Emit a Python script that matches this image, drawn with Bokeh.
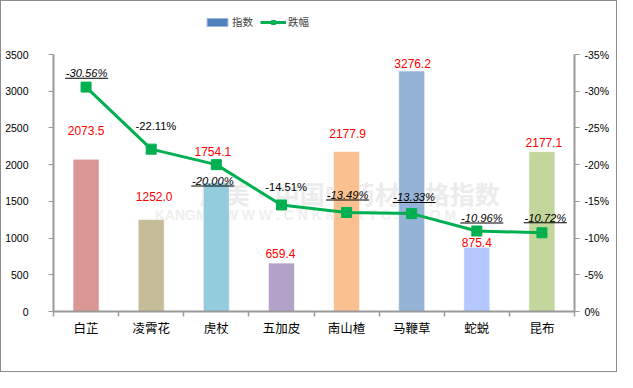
from bokeh.plotting import figure
from bokeh.models import (ColumnDataSource, Range1d, LinearAxis, FixedTicker,
                          CustomJSTickFormatter, Legend, LegendItem)
from bokeh.core.properties import value
from bokeh.embed import file_html
from bokeh.resources import INLINE

# ---------------- data ----------------
categories = ["白芷", "凌霄花", "虎杖", "五加皮", "南山楂", "马鞭草", "蛇蜕", "昆布"]
index_values = [2073.5, 1252.0, 1754.1, 659.4, 2177.9, 3276.2, 875.4, 2177.1]
change_pct = [-30.56, -22.11, -20.00, -14.51, -13.49, -13.33, -10.96, -10.72]
left_ticks = [0, 500, 1000, 1500, 2000, 2500, 3000, 3500]
right_ticks = [0, 5, 10, 15, 20, 25, 30, 35]

# ---------------- styling ----------------
bar_colors = ["#D99694", "#C4BD97", "#93CDDD", "#B3A2C7", "#FAC090", "#95B3D7", "#B4C7FF", "#C3D69B"]
bar_label_lift = [390, 313, 430, 125, 250, 106, 66, 120]
bar_label_dx = [0, 3, -3.5, -1, 1, 1, 0, 2]
pct_label_lift = [1.9, 3.2, -2.2, 2.4, 2.4, 2.2, 1.8, 2.05]
pct_label_dx = [0.6, 4.7, -3.5, 4.6, 1, 2.5, 5, 3.4]
pct_underlined = [True, False, True, False, True, True, True, True]
GREEN = "#00B050"
AXIS = "#9a9a9a"
CJK = "Noto Sans CJK SC"
LAT = "Liberation Sans"

W, H = 617, 372
B_LEFT, B_RIGHT, B_TOP, B_BOTTOM = 52, 44, 5, 62
AXIS_TOP = 53          # pixel row of the top tick (3500 / -35%)
plot_h = H - B_TOP - B_BOTTOM
axis_h = H - AXIS_TOP - B_BOTTOM
LMAX, RMAX = left_ticks[-1], right_ticks[-1]
ymax_l = LMAX * plot_h / axis_h
ymax_r = RMAX * plot_h / axis_h

n = len(categories)
xc = [i + 0.5 for i in range(n)]
mag = [-v for v in change_pct]
pct_text = ["%.2f%%" % v for v in change_pct]

p = figure(width=W, height=H, output_backend="svg", toolbar_location=None,
           x_range=Range1d(0, n), y_range=Range1d(0, ymax_l),
           min_border_left=B_LEFT, min_border_right=B_RIGHT,
           min_border_top=B_TOP, min_border_bottom=B_BOTTOM)
p.extra_y_ranges = {"pct": Range1d(0, ymax_r)}
p.outline_line_color = None
p.xgrid.visible = False
p.ygrid.visible = False
p.background_fill_color = "white"
p.border_fill_color = "white"
p.styles = {"border": "1px solid #8c8c8c", "box-sizing": "border-box"}

# watermark
p.text(x=[4.55], y=[1620], text=["康美·中国中药材价格指数"], text_align="center",
       text_baseline="middle", text_font=value(CJK), text_font_size="25px",
       text_font_style="bold", text_color="#ececec")
p.text(x=[3.9], y=[1310], text=["KANGMEI  W W W . C N K M P R T C S . C O M"], text_align="center",
       text_baseline="middle", text_font=value(LAT), text_font_size="14px",
       text_font_style="bold", text_color="#efefef")

# bars
bsrc = ColumnDataSource(dict(x=xc, top=index_values, color=bar_colors,
                             ly=[v + d for v, d in zip(index_values, bar_label_lift)],
                             lbl=["%.1f" % v for v in index_values], dx=bar_label_dx))
p.vbar(x="x", top="top", width=0.4, fill_color="color", line_color="white",
       line_alpha=0.6, line_width=1, source=bsrc)
p.text(x="x", y="ly", text="lbl", x_offset="dx", source=bsrc, text_align="center",
       text_baseline="middle", text_font=value(LAT), text_font_size="12px", text_color="#FF0000")

# line
lsrc = ColumnDataSource(dict(x=xc, y=mag))
line_r = p.line(x="x", y="y", source=lsrc, line_color=GREEN, line_width=3, y_range_name="pct")
mark_r = p.scatter(x="x", y="y", source=lsrc, marker="square", size=10, fill_color=GREEN,
                   line_color=GREEN, y_range_name="pct")

# percent labels
ly = [m + d for m, d in zip(mag, pct_label_lift)]
psrc = ColumnDataSource(dict(x=xc, y=ly, t=pct_text, dx=pct_label_dx,
                             style=["italic" if u else "normal" for u in pct_underlined]))
p.text(x="x", y="y", text="t", x_offset="dx", text_font_style="style", source=psrc,
       y_range_name="pct", text_align="center", text_baseline="middle",
       text_font=value(LAT), text_font_size="11.2px", text_color="black")
usrc = ColumnDataSource(dict(
    x=[x + d / 65.0 for x, d, u in zip(xc, pct_label_dx, pct_underlined) if u],
    y=[v - 0.7 for v, u in zip(ly, pct_underlined) if u]))
p.rect(x="x", y="y", width=43, height=1, width_units="screen", height_units="screen",
       source=usrc, fill_color="black", line_color=None, y_range_name="pct")

# axes
p.xaxis.ticker = FixedTicker(ticks=xc, minor_ticks=list(range(n + 1)))
p.xaxis.major_label_overrides = {x: c for x, c in zip(xc, categories)}
p.xaxis.major_tick_line_color = None
p.xaxis.major_tick_out = 0
p.xaxis.major_tick_in = 0
p.xaxis.minor_tick_out = 5
p.xaxis.minor_tick_in = 0
p.xaxis.minor_tick_line_color = AXIS
p.xaxis.minor_tick_line_width = 1.5
p.xaxis.axis_line_color = AXIS
p.xaxis.axis_line_width = 2
p.xaxis.major_label_text_font = CJK
p.xaxis.major_label_text_font_size = "12.5px"
p.xaxis.major_label_text_color = "black"
p.xaxis.major_label_standoff = 1

p.yaxis.ticker = FixedTicker(ticks=left_ticks)
p.yaxis.bounds = (0, LMAX)
p.yaxis.minor_tick_line_color = None
p.yaxis.major_tick_out = 5
p.yaxis.major_tick_in = 0
p.yaxis.major_tick_line_color = AXIS
p.yaxis.axis_line_color = AXIS
p.yaxis.axis_line_width = 2
p.yaxis.major_label_text_font = LAT
p.yaxis.major_label_text_font_size = "10.5px"
p.yaxis.major_label_text_color = "black"
p.yaxis.major_label_standoff = 20

ra = LinearAxis(y_range_name="pct", ticker=FixedTicker(ticks=right_ticks), bounds=(0, RMAX),
                formatter=CustomJSTickFormatter(code="return tick == 0 ? '0%' : '-' + tick + '%';"))
ra.minor_tick_line_color = None
ra.major_tick_out = 5
ra.major_tick_in = 0
ra.major_tick_line_color = AXIS
ra.axis_line_color = AXIS
ra.axis_line_width = 2
ra.major_label_text_font = LAT
ra.major_label_text_font_size = "10.5px"
ra.major_label_text_color = "black"
ra.major_label_standoff = 5
p.add_layout(ra, "right")

# legend (inside the frame, above the axis tops)
legend_bar = p.vbar(x=[xc[0]], top=[0], width=0.4, fill_color="#4F81BD", line_color="#9bb7dd")
legend = Legend(items=[LegendItem(label="指数", renderers=[legend_bar]),
                       LegendItem(label="跌幅", renderers=[line_r, mark_r])],
                orientation="horizontal", location=(151, plot_h - 23),
                glyph_width=26, glyph_height=10, label_height=14, label_standoff=2,
                spacing=7, padding=2, margin=0, border_line_color=None,
                background_fill_alpha=0, label_text_font=CJK, label_text_font_size="10.5px")
p.add_layout(legend)

open("out.html", "w").write(file_html(p, INLINE))
